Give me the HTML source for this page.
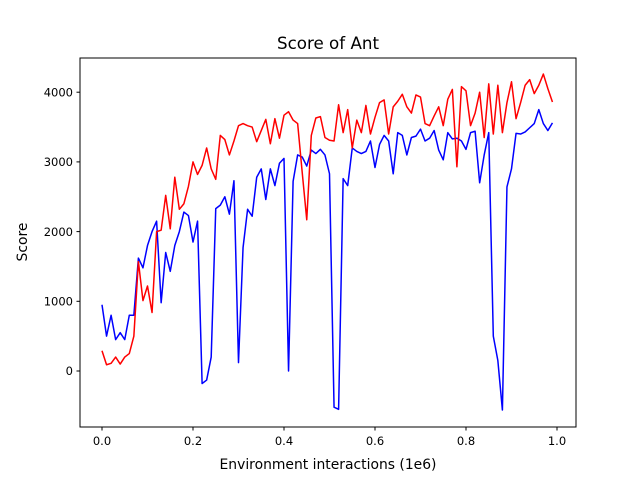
<!DOCTYPE html>
<html><head><meta charset="utf-8"><style>
body{margin:0;background:#fff}
svg text{font-family:"DejaVu Sans","Liberation Sans",sans-serif;fill:#000}
</style></head><body>
<svg id="chart" width="640" height="480" viewBox="0 0 640 480">
<rect width="640" height="480" fill="#fff"/>
<text x="328" y="49" font-size="16.7" text-anchor="middle">Score of Ant</text>
<g id="plot"></g>
<rect x="80" y="58" width="496" height="369" fill="none" stroke="#000" stroke-width="1"/>
<text x="328" y="469" font-size="13.9" text-anchor="middle">Environment interactions (1e6)</text>
<text transform="translate(27,242) rotate(-90)" font-size="13.9" text-anchor="middle">Score</text>
</svg>
<script>
const xTicks=[0,0.2,0.4,0.6,0.8,1.0];
const xTickLabels=["0.0","0.2","0.4","0.6","0.8","1.0"];
const yTicks=[0,1000,2000,3000,4000];
const yTickLabels=["0","1000","2000","3000","4000"];
const blueSeries=[950,500,800,450,550,450,800,800,1620,1480,1800,2000,2150,980,1700,1430,1800,2000,2280,2230,1850,2150,-180,-130,200,2330,2380,2500,2250,2730,120,1770,2320,2220,2780,2900,2460,2900,2660,2980,3050,0,2720,3100,3070,2940,3170,3120,3180,3100,2830,-520,-550,2760,2660,3200,3150,3120,3150,3300,2920,3250,3380,3300,2830,3420,3380,3100,3350,3370,3470,3300,3340,3450,3170,3030,3420,3330,3340,3300,3180,3420,3440,2700,3100,3420,500,150,-560,2640,2900,3410,3400,3430,3490,3550,3750,3550,3450,3560];
const redSeries=[290,90,110,200,100,200,250,500,1570,1010,1220,840,2000,2020,2520,2040,2780,2320,2400,2650,3000,2820,2950,3200,2900,2750,3380,3320,3100,3300,3520,3550,3520,3500,3290,3450,3610,3260,3620,3340,3670,3720,3600,3550,2850,2170,3380,3630,3650,3350,3310,3300,3820,3420,3750,3200,3600,3420,3810,3400,3640,3850,3890,3400,3790,3870,3970,3790,3700,3960,3930,3550,3520,3660,3790,3520,3900,4040,2930,4080,4020,3520,3700,4000,3350,4120,3400,4100,3420,3850,4150,3620,3850,4100,4180,3980,4100,4260,4050,3860];
const xStep=0.01;
const NS="http://www.w3.org/2000/svg";
function xs(v){return 102+v*455;}
function ys(v){return 371-v*0.0697;}
const g=document.getElementById('plot');
function mk(t,a){const e=document.createElementNS(NS,t);for(const k in a)e.setAttribute(k,a[k]);g.appendChild(e);return e;}
xTicks.forEach((t,i)=>{
  const l=mk('line',{x1:xs(t),x2:xs(t),y1:427,y2:430.5,stroke:'#000'});
  
  
  const tx=mk('text',{x:xs(t),y:445,'font-size':11.5,'text-anchor':'middle'});
  tx.textContent=xTickLabels[i];
  
  
});
yTicks.forEach((t,i)=>{
  const l=mk('line',{x1:76.5,x2:80,y1:ys(t),y2:ys(t),stroke:'#000'});
  
  
  const tx=mk('text',{x:73,y:ys(t)+4.2,'font-size':11.5,'text-anchor':'end'});
  tx.textContent=yTickLabels[i];
  
  
});
function line(arr,color,name){
  const pts=arr.map((v,i)=>xs(i*xStep).toFixed(2)+','+ys(v).toFixed(2)).join(' ');
  const p=mk('polyline',{points:pts,fill:'none',stroke:color,'stroke-width':1.5,'stroke-linejoin':'round'});
  
  
}
line(blueSeries,'#0000ff','blue-score-line');
line(redSeries,'#ff0000','red-score-line');
</script>
</body></html>
